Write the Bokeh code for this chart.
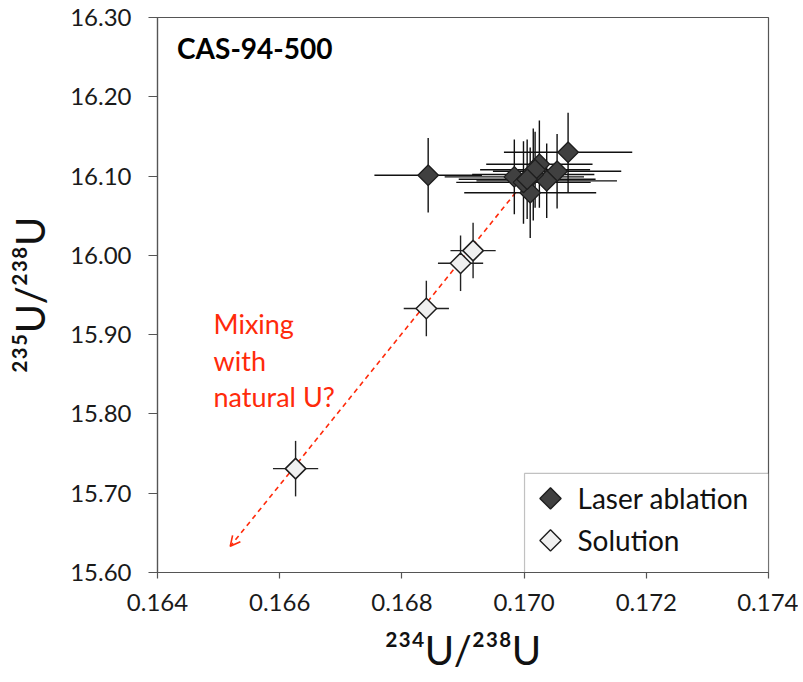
import numpy as np
from bokeh.plotting import figure
from bokeh.models import (ColumnDataSource, FixedTicker, NumeralTickFormatter, Label,
                          Arrow, OpenHead, BoxAnnotation, Range1d)
from bokeh.embed import file_html
from bokeh.resources import INLINE

# ---- data ----
laser_x = [0.16843, 0.17072, 0.16984, 0.17025, 0.17054, 0.17037, 0.17010, 0.16999, 0.17015, 0.17018, 0.17005]
laser_y = [16.101, 16.130, 16.099, 16.115, 16.106, 16.094, 16.079, 16.092, 16.102, 16.108, 16.096]
laser_xerr = [0.00088, 0.00105, 0.00114, 0.00087, 0.00105, 0.00115, 0.00108, 0.00110, 0.00100, 0.00090, 0.00112]
laser_yerr = [0.047, 0.050, 0.047, 0.055, 0.047, 0.047, 0.057, 0.052, 0.058, 0.048, 0.050]

sol_x = [0.16626, 0.16840, 0.16896, 0.169165]
sol_y = [15.731, 15.933, 15.990, 16.006]
sol_xerr = [0.00037, 0.00037, 0.00037, 0.00037]
sol_yerr = [0.035, 0.035, 0.035, 0.035]

x_ticks = [0.164, 0.166, 0.168, 0.170, 0.172, 0.174]
y_ticks = [15.60, 15.70, 15.80, 15.90, 16.00, 16.10, 16.20, 16.30]

series_names = ["Laser ablation", "Solution"]

title_text = "CAS-94-500"
title_pos = (0.16432, 16.262)
note_lines = ["Mixing", "with", "natural U?"]
note_pos = (0.164917, 15.914)
note_step = 0.0462
arrow_start = (0.16986, 16.079)
arrow_end = (0.16519, 15.633)

# manual legend placement (data units)
leg_left, leg_top = 0.170007, 15.725
leg_marker_x = 0.170432
leg_text_x = 0.170874
leg_rows_y = [15.6934, 15.6405]

FONT = "Lato"
RED = "#FF2A0A"
LASER_FILL = "#404040"
SOL_FILL = "#F0F0F0"
EDGE = "#1e1e1e"

def src(x, y, xe, ye):
    x = np.array(x); y = np.array(y); xe = np.array(xe); ye = np.array(ye)
    return ColumnDataSource(dict(x=x, y=y, xl=x - xe, xh=x + xe, yl=y - ye, yh=y + ye))

ls = src(laser_x, laser_y, laser_xerr, laser_yerr)
ss = src(sol_x, sol_y, sol_xerr, sol_yerr)

p = figure(width=798, height=680, output_backend="svg", toolbar_location=None,
           x_range=Range1d(x_ticks[0], x_ticks[-1]), y_range=Range1d(y_ticks[0], y_ticks[-1]),
           min_border_left=157, min_border_right=30, min_border_top=17, min_border_bottom=108)
p.background_fill_color = "white"
p.border_fill_color = "white"
p.outline_line_color = "#555555"
p.outline_line_width = 1.2
p.grid.visible = False

# arrow (under markers)
arr = Arrow(x_start=arrow_start[0], y_start=arrow_start[1], x_end=arrow_end[0], y_end=arrow_end[1],
            line_color=RED, line_width=1.6, line_dash="5 4",
            end=OpenHead(size=10, line_color=RED, line_width=1.6), level="underlay")
p.add_layout(arr)

# legend box (under its markers)
p.add_layout(BoxAnnotation(left=leg_left, right=x_ticks[-1], bottom=y_ticks[0], top=leg_top,
                           fill_color="white", fill_alpha=1.0, line_color="#333333",
                           line_width=1.2, level="underlay"))

# laser ablation
p.segment(x0="xl", y0="y", x1="xh", y1="y", source=ls, line_color="#111111", line_width=1.4)
p.segment(x0="x", y0="yl", x1="x", y1="yh", source=ls, line_color="#111111", line_width=1.4)
p.scatter(x="x", y="y", source=ls, marker="square", angle=np.pi / 4, size=14.5,
          fill_color=LASER_FILL, line_color=EDGE, line_width=1.3)

# solution
p.segment(x0="xl", y0="y", x1="xh", y1="y", source=ss, line_color="#222222", line_width=1.4)
p.segment(x0="x", y0="yl", x1="x", y1="yh", source=ss, line_color="#222222", line_width=1.4)
p.scatter(x="x", y="y", source=ss, marker="square", angle=np.pi / 4, size=14.5,
          fill_color=SOL_FILL, line_color=EDGE, line_width=1.5)

# legend markers and labels
p.scatter(x=[leg_marker_x, leg_marker_x], y=leg_rows_y, marker="square", angle=np.pi / 4, size=15,
          fill_color=[LASER_FILL, SOL_FILL], line_color=EDGE, line_width=1.4)
for name, yy in zip(series_names, leg_rows_y):
    p.add_layout(Label(x=leg_text_x, y=yy, text=name, text_font=FONT, text_font_size="28px",
                       text_color="#111111", text_baseline="middle"))

# axes
for ax in (p.xaxis[0], p.yaxis[0]):
    ax.axis_line_color = "#555555"
    ax.axis_line_width = 1.2
    ax.major_tick_line_color = "#555555"
    ax.major_tick_line_width = 1.2
    ax.major_tick_in = 0
    ax.minor_tick_line_color = None
    ax.major_label_text_font = FONT
    ax.major_label_text_font_size = "24px"
    ax.major_label_text_color = "#1a1a1a"
    ax.axis_label_text_font = FONT
    ax.axis_label_text_font_style = "normal"
    ax.axis_label_text_font_size = "40px"
    ax.axis_label_text_color = "#111111"

p.xaxis.major_tick_out = 6
p.yaxis.major_tick_out = 9
p.xaxis.ticker = FixedTicker(ticks=x_ticks)
p.yaxis.ticker = FixedTicker(ticks=y_ticks)
p.xaxis.formatter = NumeralTickFormatter(format="0.000")
p.yaxis.formatter = NumeralTickFormatter(format="0.00")
p.xaxis.major_label_standoff = 15
p.yaxis.major_label_standoff = 17
p.xaxis.axis_label = "²³⁴U/²³⁸U"
p.yaxis.axis_label = "²³⁵U/²³⁸U"
p.xaxis.axis_label_standoff = 12
p.yaxis.axis_label_standoff = 13

# title inside the plot
p.add_layout(Label(x=title_pos[0], y=title_pos[1], text=title_text, text_font=FONT,
                   text_font_size="28px", text_font_style="bold", text_color="#000000",
                   text_baseline="middle"))

# red note
for i, line in enumerate(note_lines):
    p.add_layout(Label(x=note_pos[0], y=note_pos[1] - i * note_step, text=line, text_font=FONT,
                       text_font_size="27px", text_color=RED, text_baseline="middle"))

open("out.html", "w").write(file_html(p, INLINE))
